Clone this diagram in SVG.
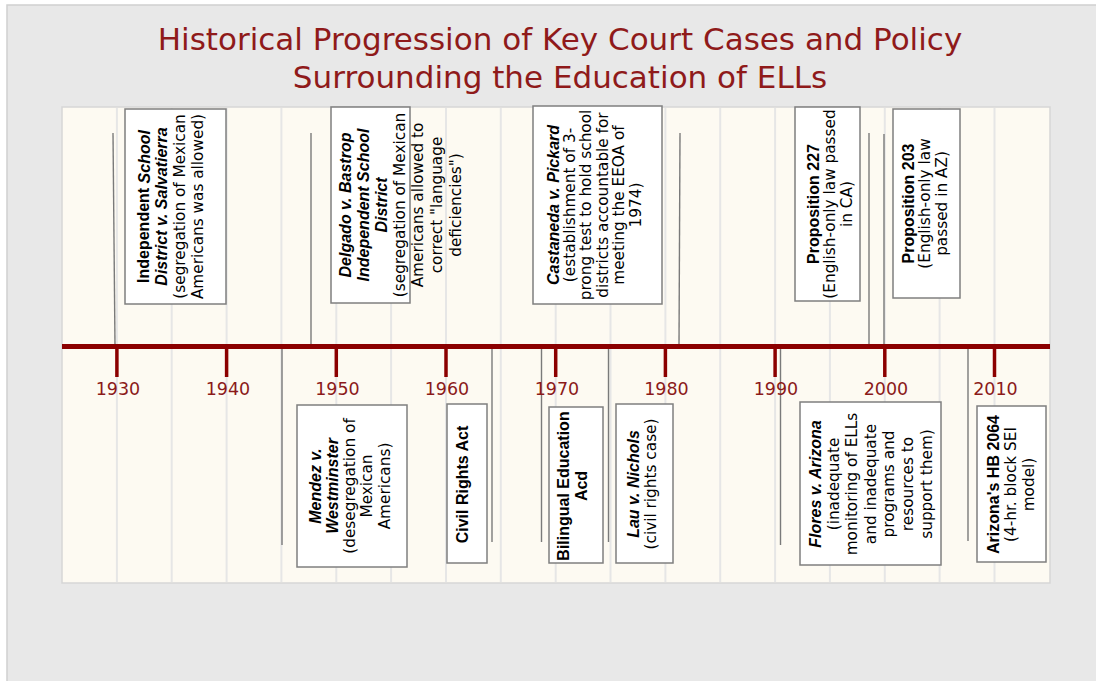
<svg xmlns="http://www.w3.org/2000/svg" width="1096" height="681" viewBox="0 0 1096 681">
<style>
.t{font-family:"DejaVu Sans",sans-serif;font-size:31px;fill:#8f1a1a;text-anchor:middle}
.yr{font-family:"DejaVu Sans",sans-serif;font-size:17.5px;fill:#8b1a1a;text-anchor:middle}
.r{font-family:"DejaVu Sans",sans-serif;font-size:15.3px;fill:#000;text-anchor:middle;dominant-baseline:central}
.b{font-family:"Liberation Sans",sans-serif;font-weight:bold;font-size:16px;fill:#000;text-anchor:middle;dominant-baseline:central}
.i{font-style:italic}
.box{fill:#fff;stroke:#7f7f7f;stroke-width:1.5}
.con{stroke:#7a7a7a;stroke-width:1.4}
.grid{stroke:#e6e6e6;stroke-width:2}
.tick{stroke:#8b0000;stroke-width:3.5}
</style>
<rect x="0" y="0" width="1096" height="681" fill="#ffffff"/>
<rect x="7" y="5" width="1100" height="700" fill="#e8e8e8" stroke="#cfcfcf" stroke-width="1.5"/>
<g id="title">
<text class="t" x="560" y="49.5">Historical Progression of Key Court Cases and Policy</text>
<text class="t" x="560" y="87.5">Surrounding the Education of ELLs</text>
</g>
<g id="plot">
<rect x="62" y="107" width="988" height="476" fill="#fdfaf2" stroke="#d6d6d6" stroke-width="1.5"/>
<g class="grid">
<line x1="116.9" y1="108" x2="116.9" y2="582"/>
<line x1="171.7" y1="108" x2="171.7" y2="582"/>
<line x1="226.6" y1="108" x2="226.6" y2="582"/>
<line x1="281.4" y1="108" x2="281.4" y2="582"/>
<line x1="336.3" y1="108" x2="336.3" y2="582"/>
<line x1="391.1" y1="108" x2="391.1" y2="582"/>
<line x1="446" y1="108" x2="446" y2="582"/>
<line x1="500.8" y1="108" x2="500.8" y2="582"/>
<line x1="555.7" y1="108" x2="555.7" y2="582"/>
<line x1="610.5" y1="108" x2="610.5" y2="582"/>
<line x1="665.4" y1="108" x2="665.4" y2="582"/>
<line x1="720.2" y1="108" x2="720.2" y2="582"/>
<line x1="775.1" y1="108" x2="775.1" y2="582"/>
<line x1="829.9" y1="108" x2="829.9" y2="582"/>
<line x1="884.8" y1="108" x2="884.8" y2="582"/>
<line x1="939.6" y1="108" x2="939.6" y2="582"/>
<line x1="994.5" y1="108" x2="994.5" y2="582"/>
</g>
</g>
<g id="connectors">
<line class="con" x1="113" y1="133" x2="115" y2="346"/>
<line class="con" x1="311" y1="133" x2="311" y2="346"/>
<line class="con" x1="680" y1="133" x2="679" y2="346"/>
<line class="con" x1="869" y1="133" x2="869" y2="346"/>
<line class="con" x1="884" y1="134" x2="884" y2="346"/>
<line class="con" x1="282" y1="346" x2="282" y2="545"/>
<line class="con" x1="492" y1="346" x2="492" y2="542"/>
<line class="con" x1="541.5" y1="346" x2="541.5" y2="542"/>
<line class="con" x1="608.5" y1="346" x2="608.5" y2="542"/>
<line class="con" x1="780.5" y1="346" x2="780.5" y2="545"/>
<line class="con" x1="968" y1="346" x2="968" y2="541"/>
</g>
<g id="axis">
<line x1="62" y1="346.5" x2="1050" y2="346.5" stroke="#8b0000" stroke-width="5"/>
<line class="tick" x1="116.9" y1="346" x2="116.9" y2="377"/>
<line class="tick" x1="226.6" y1="346" x2="226.6" y2="377"/>
<line class="tick" x1="336.3" y1="346" x2="336.3" y2="377"/>
<line class="tick" x1="446" y1="346" x2="446" y2="377"/>
<line class="tick" x1="555.7" y1="346" x2="555.7" y2="377"/>
<line class="tick" x1="665.4" y1="346" x2="665.4" y2="377"/>
<line class="tick" x1="775.1" y1="346" x2="775.1" y2="377"/>
<line class="tick" x1="884.8" y1="346" x2="884.8" y2="377"/>
<line class="tick" x1="994.5" y1="346" x2="994.5" y2="377"/>
<text class="yr" x="118" y="394.5">1930</text>
<text class="yr" x="228" y="394.5">1940</text>
<text class="yr" x="337.5" y="394.5">1950</text>
<text class="yr" x="447" y="394.5">1960</text>
<text class="yr" x="557" y="394.5">1970</text>
<text class="yr" x="666.5" y="394.5">1980</text>
<text class="yr" x="776" y="394.5">1990</text>
<text class="yr" x="886" y="394.5">2000</text>
<text class="yr" x="995.5" y="394.5">2010</text>
</g>
<g id="salvatierra">
<rect class="box" x="125" y="109" width="101" height="195"/>
<text class="b" transform="translate(143.5,206.5) rotate(-90)">Independent <tspan class="i">School</tspan></text>
<text class="b i" transform="translate(161.5,206.5) rotate(-90)">District v. Salvatierra</text>
<text class="r" transform="translate(179.5,206.5) rotate(-90)">(segregation of Mexican</text>
<text class="r" transform="translate(197.5,206.5) rotate(-90)">Americans was allowed)</text>
</g>
<g id="delgado">
<rect class="box" x="331" y="107" width="79" height="196"/>
<text class="b i" transform="translate(345,205) rotate(-90)">Delgado v. Bastrop</text>
<text class="b i" transform="translate(363,205) rotate(-90)">Independent School</text>
<text class="b i" transform="translate(381,205) rotate(-90)">District</text>
<text class="r" transform="translate(400,205) rotate(-90)">(segregation of Mexican</text>
<text class="r" transform="translate(418,205) rotate(-90)">Americans allowed to</text>
<text class="r" transform="translate(437,205) rotate(-90)">correct "language</text>
<text class="r" transform="translate(456,205) rotate(-90)">deficiencies")</text>
</g>
<g id="castaneda">
<rect class="box" x="533" y="106" width="129" height="198"/>
<text class="b i" transform="translate(553,205) rotate(-90)">Castaneda v. Pickard</text>
<text class="r" transform="translate(569.5,205) rotate(-90)">(establishment of 3-</text>
<text class="r" transform="translate(586,205) rotate(-90)">prong test to hold school</text>
<text class="r" transform="translate(602.5,205) rotate(-90)">districts accountable for</text>
<text class="r" transform="translate(619,205) rotate(-90)">meeting the EEOA of</text>
<text class="r" transform="translate(635.5,205) rotate(-90)">1974)</text>
</g>
<g id="prop227">
<rect class="box" x="795" y="107" width="65" height="194"/>
<text class="b" transform="translate(813.3,204) rotate(-90)">Proposition 227</text>
<text class="r" transform="translate(829.5,204) rotate(-90)">(English-only law passed</text>
<text class="r" transform="translate(846.5,204) rotate(-90)">in CA)</text>
</g>
<g id="prop203">
<rect class="box" x="893" y="109" width="67" height="189"/>
<text class="b" transform="translate(908.3,203.5) rotate(-90)">Proposition 203</text>
<text class="r" transform="translate(924.5,203.5) rotate(-90)">(English-only law</text>
<text class="r" transform="translate(942,203.5) rotate(-90)">passed in AZ)</text>
</g>
<g id="mendez">
<rect class="box" x="297" y="405" width="110" height="162"/>
<text class="b i" transform="translate(315.5,486) rotate(-90)">Mendez v.</text>
<text class="b i" transform="translate(332,486) rotate(-90)">Westminster</text>
<text class="r" transform="translate(349.5,486) rotate(-90)">(desegregation of</text>
<text class="r" transform="translate(367,486) rotate(-90)">Mexican</text>
<text class="r" transform="translate(385,486) rotate(-90)">Americans)</text>
</g>
<g id="civilrights">
<rect class="box" x="447" y="404" width="40" height="159"/>
<text class="b" transform="translate(462,484.5) rotate(-90)">Civil Rights Act</text>
</g>
<g id="bilingual">
<rect class="box" x="549" y="407" width="54" height="156"/>
<text class="b" transform="translate(563.3,486) rotate(-90)">Bilingual Education</text>
<text class="b" transform="translate(581.7,486) rotate(-90)">Acd</text>
</g>
<g id="lau">
<rect class="box" x="616" y="404" width="57" height="159"/>
<text class="b i" transform="translate(633.3,484) rotate(-90)">Lau v. Nichols</text>
<text class="r" transform="translate(650.7,484) rotate(-90)">(civil rights case)</text>
</g>
<g id="flores">
<rect class="box" x="800" y="402" width="141" height="163"/>
<text class="b i" transform="translate(815,484) rotate(-90)">Flores v. Arizona</text>
<text class="r" transform="translate(833.6,484) rotate(-90)">(inadequate</text>
<text class="r" transform="translate(852.2,484) rotate(-90)">monitoring of ELLs</text>
<text class="r" transform="translate(870.8,484) rotate(-90)">and inadequate</text>
<text class="r" transform="translate(889.4,484) rotate(-90)">programs and</text>
<text class="r" transform="translate(908,484) rotate(-90)">resources to</text>
<text class="r" transform="translate(926.6,484) rotate(-90)">support them)</text>
</g>
<g id="hb2064">
<rect class="box" x="977" y="406" width="69" height="156"/>
<text class="b" transform="translate(993.3,484.5) rotate(-90)">Arizona's HB 2064</text>
<text class="r" transform="translate(1011,484.5) rotate(-90)">(4-hr. block SEI</text>
<text class="r" transform="translate(1029,484.5) rotate(-90)">model)</text>
</g>
</svg>
